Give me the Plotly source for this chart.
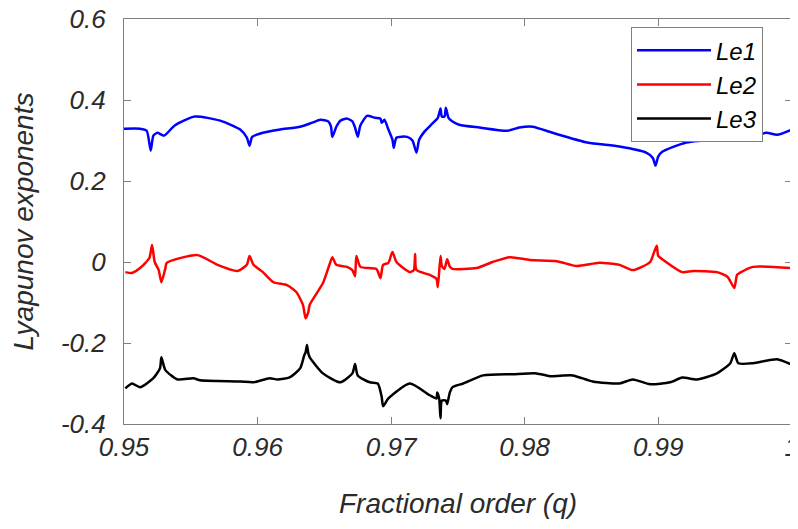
import plotly.graph_objects as go

# Le1 (blue)
q1 = [0.9500, 0.9512, 0.9517, 0.9520, 0.9522, 0.9525, 0.9530, 0.9538, 0.9553, 0.9572,
      0.9587, 0.9592, 0.9594, 0.9596, 0.9604, 0.9617, 0.9632, 0.9641, 0.9647, 0.9653,
      0.9655, 0.9656, 0.9659, 0.9662, 0.9667, 0.9671, 0.9673, 0.9675, 0.9677, 0.9682,
      0.9688, 0.9692, 0.9693, 0.9695, 0.9698, 0.9701, 0.9702, 0.9704, 0.9712, 0.9716,
      0.9719, 0.9721, 0.9725, 0.9731, 0.9735, 0.9737, 0.9738, 0.9740, 0.9741, 0.9743,
      0.9746, 0.9751, 0.9766, 0.9787, 0.9796, 0.9806, 0.9821, 0.9847, 0.9871, 0.9891,
      0.9896, 0.9898, 0.9900, 0.9903, 0.9921, 0.9946, 0.9969, 0.9981, 0.9989, 1.0000]
le1 = [0.329, 0.329, 0.324, 0.275, 0.312, 0.319, 0.312, 0.337, 0.359, 0.349,
       0.327, 0.307, 0.287, 0.309, 0.319, 0.327, 0.334, 0.344, 0.351, 0.347,
       0.334, 0.309, 0.334, 0.349, 0.354, 0.347, 0.332, 0.309, 0.337, 0.361,
       0.356, 0.354, 0.344, 0.351, 0.327, 0.302, 0.282, 0.307, 0.309, 0.300,
       0.270, 0.302, 0.322, 0.342, 0.356, 0.379, 0.359, 0.359, 0.381, 0.356,
       0.347, 0.339, 0.332, 0.324, 0.332, 0.334, 0.319, 0.295, 0.285, 0.270,
       0.257, 0.238, 0.260, 0.272, 0.295, 0.304, 0.307, 0.319, 0.314, 0.327]

# Le2 (red)
q2 = [0.9501, 0.9506, 0.9512, 0.9519, 0.9521, 0.9523, 0.9526, 0.9528, 0.9531, 0.9532,
      0.9555, 0.9570, 0.9585, 0.9592, 0.9594, 0.9597, 0.9604, 0.9612, 0.9622, 0.9629,
      0.9634, 0.9636, 0.9638, 0.9639, 0.9649, 0.9654, 0.9656, 0.9659, 0.9667, 0.9671,
      0.9673, 0.9674, 0.9677, 0.9689, 0.9692, 0.9694, 0.9698, 0.9701, 0.9704, 0.9714,
      0.9717, 0.9718, 0.9719, 0.9729, 0.9734, 0.9735, 0.9737, 0.9738, 0.9740, 0.9742,
      0.9744, 0.9746, 0.9764, 0.9776, 0.9789, 0.9804, 0.9824, 0.9839, 0.9856, 0.9871,
      0.9881, 0.9894, 0.9897, 0.9899, 0.9900, 0.9903, 0.9918, 0.9926, 0.9944, 0.9952,
      0.9957, 0.9959, 0.9961, 0.9971, 0.9999]
le2 = [-0.025, -0.027, -0.015, 0.010, 0.042, 0.000, -0.020, -0.050, -0.015, -0.002,
       0.017, -0.007, -0.022, -0.007, 0.015, -0.007, -0.025, -0.050, -0.057, -0.074,
       -0.106, -0.139, -0.124, -0.106, -0.052, -0.005, 0.012, -0.007, -0.012, -0.020,
       -0.035, 0.015, -0.012, -0.017, -0.040, -0.007, -0.002, 0.025, 0.000, -0.025,
       -0.020, 0.020, -0.020, -0.032, -0.042, -0.062, 0.015, -0.010, -0.017, 0.007,
       -0.012, -0.017, -0.015, 0.000, 0.012, 0.005, 0.002, -0.010, -0.002, -0.007,
       -0.020, 0.000, 0.025, 0.040, 0.015, 0.007, -0.025, -0.022, -0.025, -0.037,
       -0.064, -0.032, -0.027, -0.012, -0.015]

# Le3 (black)
q3 = [0.9501, 0.9506, 0.9512, 0.9522, 0.9527, 0.9528, 0.9531, 0.9540, 0.9552, 0.9557,
      0.9587, 0.9597, 0.9609, 0.9615, 0.9624, 0.9632, 0.9635, 0.9636, 0.9637, 0.9638,
      0.9639, 0.9649, 0.9662, 0.9671, 0.9673, 0.9675, 0.9684, 0.9690, 0.9693, 0.9694,
      0.9698, 0.9714, 0.9729, 0.9734, 0.97345, 0.9736, 0.9737, 0.9738, 0.9741, 0.9742,
      0.9744, 0.9746, 0.9754, 0.9769, 0.9791, 0.9809, 0.9819, 0.9836, 0.9851, 0.9871,
      0.9881, 0.9894, 0.9909, 0.9918, 0.9929, 0.9944, 0.9954, 0.9957, 0.9960, 0.9971,
      0.9989, 0.9999]
le3 = [-0.312, -0.300, -0.309, -0.287, -0.262, -0.235, -0.267, -0.290, -0.287, -0.292,
       -0.295, -0.297, -0.287, -0.290, -0.285, -0.262, -0.230, -0.223, -0.205, -0.225,
       -0.235, -0.275, -0.297, -0.275, -0.252, -0.280, -0.297, -0.300, -0.334, -0.356,
       -0.337, -0.300, -0.329, -0.337, -0.322, -0.337, -0.386, -0.342, -0.342, -0.351,
       -0.322, -0.309, -0.300, -0.280, -0.277, -0.275, -0.282, -0.280, -0.295, -0.300,
       -0.290, -0.302, -0.297, -0.285, -0.290, -0.275, -0.250, -0.225, -0.250, -0.250,
       -0.240, -0.252]

x_ticks = [0.95, 0.96, 0.97, 0.98, 0.99, 1.0]
x_tick_labels = ["0.95", "0.96", "0.97", "0.98", "0.99", "1"]
y_ticks = [-0.4, -0.2, 0, 0.2, 0.4, 0.6]
y_tick_labels = ["-0.4", "-0.2", "0", "0.2", "0.4", "0.6"]

FONT = "Liberation Sans"
TXT = "#2b2b2b"

fig = go.Figure()
for qv, lv, nm, col in [(q1, le1, "Le1", "#0000ff"),
                        (q2, le2, "Le2", "#ff0000"),
                        (q3, le3, "Le3", "#000000")]:
    fig.add_trace(go.Scatter(x=qv, y=lv, mode="lines", name=nm,
                             line=dict(color=col, width=2.5, shape="spline", smoothing=0.6)))

axis_common = dict(showgrid=False, zeroline=False, showline=True, mirror="ticks",
                   linecolor="#7f7f7f", linewidth=1.2, ticks="inside", ticklen=7,
                   tickcolor="#7f7f7f", tickwidth=1, ticklabeloverflow="allow",
                   automargin=False,
                   tickfont=dict(family=FONT, size=26, color=TXT, style="italic"))

fig.update_layout(
    width=790, height=521,
    margin=dict(l=116, r=6, t=11, b=105),
    paper_bgcolor="white", plot_bgcolor="white",
    font=dict(family=FONT),
    xaxis=dict(range=[0.95, 1.00002], tickvals=x_ticks, ticktext=x_tick_labels,
               ticklabelstandoff=0,
               title=dict(text="Fractional order (q)", standoff=32,
                          font=dict(family=FONT, size=28, color=TXT, style="italic")),
               **axis_common),
    yaxis=dict(range=[-0.4, 0.6], tickvals=y_ticks, ticktext=y_tick_labels,
               ticklabelstandoff=12,
               title=dict(text="Lyapunov exponents", standoff=22,
                          font=dict(family=FONT, size=28, color=TXT, style="italic")),
               **axis_common),
    legend=dict(x=0.759, y=0.980, xanchor="left", yanchor="top",
                bgcolor="white", bordercolor="#7f7f7f", borderwidth=1,
                itemwidth=74,
                font=dict(family=FONT, size=24, color="#000000", style="italic")),
    showlegend=True,
)

fig.write_html("out.html")
